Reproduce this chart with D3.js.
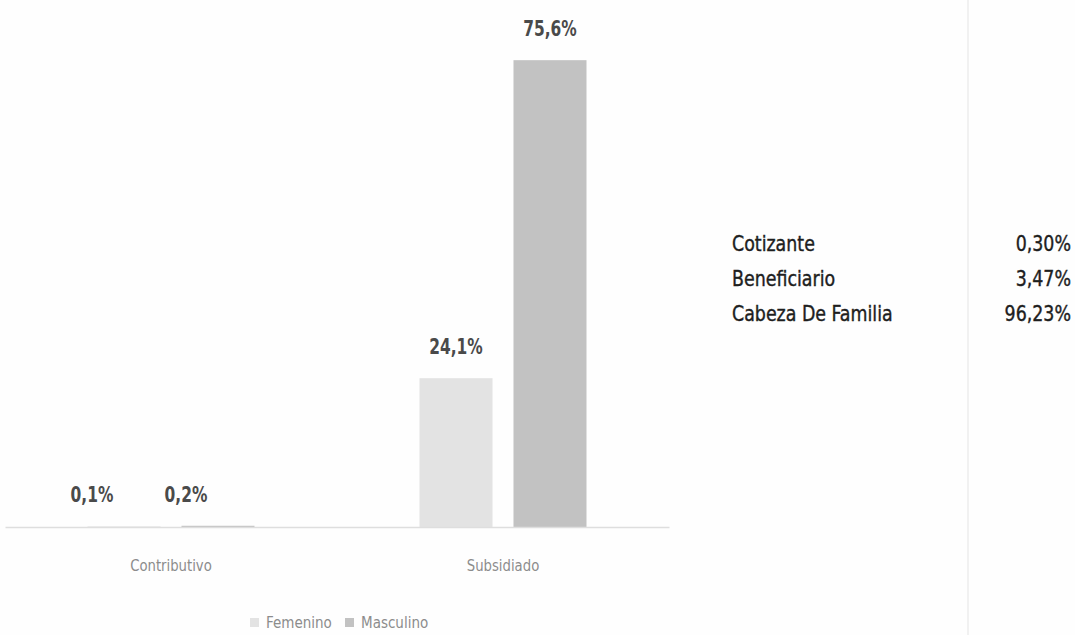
<!DOCTYPE html>
<html><head><meta charset="utf-8">
<script src="https://cdn.jsdelivr.net/npm/d3@7"></script>
<style>
html,body{margin:0;padding:0;background:#fff;}
svg{display:block;}
</style></head>
<body>
<svg id="chart" width="1075" height="635"></svg>
<script>
// ---- data ----
const categories = ["Contributivo", "Subsidiado"];
const series = ["Femenino", "Masculino"];
const femenino = [0.1, 24.1];
const masculino = [0.2, 75.6];
const valueLabels = [["0,1%", "24,1%"], ["0,2%", "75,6%"]];
const tableNames = ["Cotizante", "Beneficiario", "Cabeza De Familia"];
const tableValues = ["0,30%", "3,47%", "96,23%"];

// ---- layout ----
const W = 1075, H = 635;
const svg = d3.select("#chart");
const narrow = "'Liberation Sans Narrow','DejaVu Sans Condensed','Roboto',sans-serif";
const colors = {Femenino: "#e3e3e3", Masculino: "#c2c2c2"};

svg.append("rect").attr("width", W).attr("height", H).attr("fill", "#fefefe");
svg.append("line").attr("x1", 968).attr("x2", 968).attr("y1", 0).attr("y2", H)
  .attr("stroke", "#ececec").attr("stroke-width", 1.5);

const x0 = d3.scaleBand().domain(categories).range([5, 669]);
const x1 = d3.scaleBand().domain(series).range([0, x0.bandwidth()])
  .paddingInner(0.223).paddingOuter(0.878);
const y = d3.scaleLinear().domain([0, 80]).range([527, 33]);

const rows = categories.map((c, i) => ({
  cat: c,
  vals: [
    {s: "Femenino", v: femenino[i], label: valueLabels[0][i]},
    {s: "Masculino", v: masculino[i], label: valueLabels[1][i]}
  ]
}));

// small-value labels sit further left in the original
const labelNudge = {Contributivo: -32, Subsidiado: 0};

const g = svg.selectAll("g.cat").data(rows).enter().append("g")
  .attr("transform", d => `translate(${x0(d.cat)},0)`);

g.selectAll("rect").data(d => d.vals).enter().append("rect")
  .attr("x", d => x1(d.s))
  .attr("y", d => y(d.v))
  .attr("width", x1.bandwidth())
  .attr("height", d => y(0) - y(d.v))
  .attr("fill", d => colors[d.s]);

g.each(function(d) {
  d3.select(this).selectAll("text.val").data(d.vals).enter().append("text")
    .attr("class", "val")
    .attr("transform", v => `translate(${x1(v.s) + x1.bandwidth() / 2 + labelNudge[d.cat]},${y(v.v) - 24}) scale(0.78,1)`)
    .attr("text-anchor", "middle")
    .attr("font-family", narrow).attr("font-weight", "bold")
    .attr("font-size", 22).attr("fill", "#4a4a4a")
    .text(v => v.label);
});

// x axis
const xAxis = svg.append("g").attr("transform", `translate(0,${y(0)})`)
  .call(d3.axisBottom(x0).tickSize(0).tickPadding(0));
xAxis.select(".domain").attr("stroke", "#dedede").attr("stroke-width", 1.5);
xAxis.selectAll("text").attr("font-family", narrow).attr("font-size", 16)
  .attr("fill", "#8c8c8c").attr("dy", "0").attr("y", 44)
  .attr("transform", "scale(0.92,1)");

// legend
const legend = svg.append("g").attr("transform", "translate(250,623)");
const lx = [0, 95];
series.forEach((s, i) => {
  legend.append("rect").attr("x", lx[i]).attr("y", -5).attr("width", 9).attr("height", 9)
    .attr("fill", colors[s]);
  legend.append("text").attr("x", lx[i] + 16).attr("y", 5)
    .attr("font-family", narrow).attr("font-size", 15).attr("fill", "#8c8c8c")
    .text(s);
});

// side table
const rowY = d3.scaleBand().domain(tableNames).range([225, 330]);
tableNames.forEach((n, i) => {
  const cy = rowY(n) + rowY.bandwidth() / 2 + 8;
  svg.append("text").attr("transform", `translate(732,${cy}) scale(0.88,1)`)
    .attr("font-family", narrow).attr("font-size", 22).attr("fill", "#1e1e1e")
    .attr("stroke", "#1e1e1e").attr("stroke-width", 0.4)
    .text(n);
  svg.append("text").attr("transform", `translate(1071,${cy}) scale(0.88,1)`)
    .attr("text-anchor", "end")
    .attr("font-family", narrow).attr("font-size", 22).attr("fill", "#1e1e1e")
    .attr("stroke", "#1e1e1e").attr("stroke-width", 0.4)
    .text(tableValues[i]);
});
</script>
</body></html>
